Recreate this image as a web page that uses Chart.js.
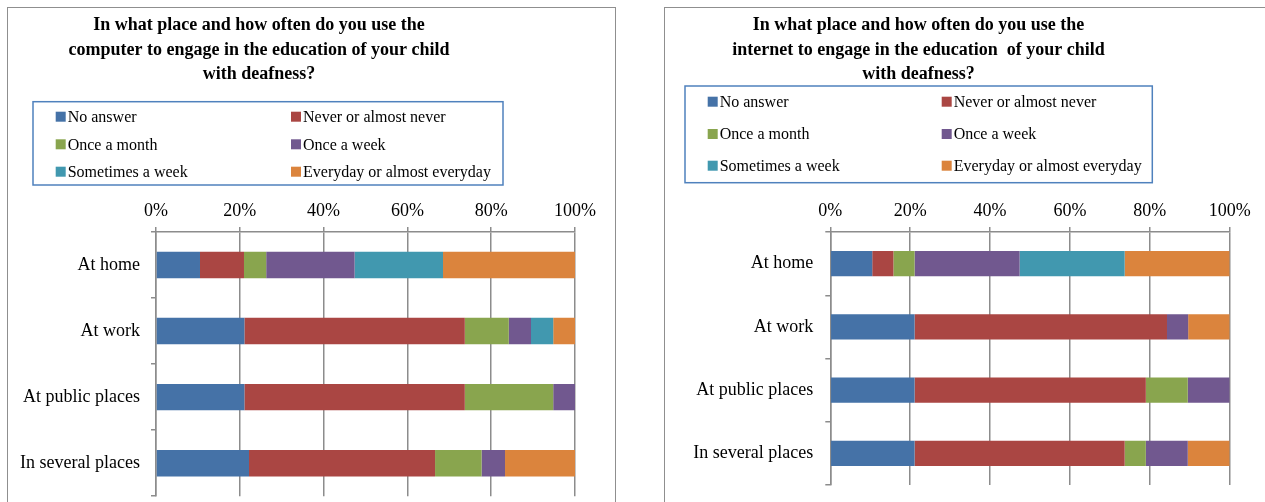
<!DOCTYPE html>
<html>
<head>
<meta charset="utf-8">
<script src="https://cdn.jsdelivr.net/npm/chart.js@4.4.1/dist/chart.umd.min.js"></script>
<style>
  html, body { margin: 0; padding: 0; background: #fff; width: 1265px; height: 502px; overflow: hidden; }
  .panel { position: absolute; top: 7px; height: 520px; border: 1px solid #8f8f8f; box-sizing: border-box; background: #fff; }
  #computerPanel { left: 7px; width: 609px; }
  #internetPanel { left: 664px; width: 620px; }
  .panel canvas { display: block; }
</style>
</head>
<body>
<div class="panel" id="computerPanel"><canvas id="computerChart" width="607" height="510"></canvas></div>
<div class="panel" id="internetPanel"><canvas id="internetChart" width="618" height="510"></canvas></div>
<script>
// Places asked about and the answer options
const places = ['At home', 'At work', 'At public places', 'In several places'];
const frequencies = ['No answer', 'Never or almost never', 'Once a month', 'Once a week', 'Sometimes a week', 'Everyday or almost everyday'];
const percentTicks = [0, 20, 40, 60, 80, 100];

// Computer use (% of respondents per place)
const computerNoAnswer        = [10.5, 21.1, 21.1, 22.2];
const computerNever           = [10.5, 52.6, 52.6, 44.4];
const computerMonthly         = [5.3, 10.5, 21.1, 11.1];
const computerWeekly          = [21.1, 5.3, 5.2, 5.6];
const computerSometimesWeekly = [21.1, 5.3, 0, 0];
const computerDaily           = [31.5, 5.2, 0, 16.7];

// Internet use (% of respondents per place)
const internetNoAnswer        = [10.5, 21.1, 21.1, 21.1];
const internetNever           = [5.3, 63.2, 57.9, 52.6];
const internetMonthly         = [5.3, 0, 10.5, 5.3];
const internetWeekly          = [26.3, 5.3, 10.5, 10.5];
const internetSometimesWeekly = [26.3, 0, 0, 0];
const internetDaily           = [26.3, 10.4, 0, 10.5];

// Series colours
const seriesColors = ['#4572a7', '#aa4643', '#89a54e', '#71588f', '#4198af', '#db843d'];

const serif = "'Liberation Serif', 'Times New Roman', serif";
const gridGray = '#8c8c8c';

// Multi-line bold title drawn at a fixed centre
const panelTitle = {
  id: 'panelTitle',
  afterDraw(chart, args, opts) {
    const ctx = chart.ctx;
    ctx.save();
    ctx.fillStyle = '#000';
    ctx.font = 'bold 18px ' + serif;
    ctx.textAlign = 'center';
    ctx.textBaseline = 'middle';
    opts.lines.forEach((line, i) => ctx.fillText(line, opts.x, opts.y + i * opts.lineHeight));
    ctx.restore();
  }
};

// Two-column boxed legend built from the datasets
const boxedLegend = {
  id: 'boxedLegend',
  afterDraw(chart, args, opts) {
    const ctx = chart.ctx;
    ctx.save();
    ctx.strokeStyle = '#4f81bd';
    ctx.lineWidth = 1.5;
    ctx.strokeRect(opts.box[0], opts.box[1], opts.box[2], opts.box[3]);
    ctx.font = '16px ' + serif;
    ctx.textAlign = 'left';
    ctx.textBaseline = 'middle';
    chart.data.datasets.forEach((ds, i) => {
      const col = i % 2, row = Math.floor(i / 2);
      const mx = opts.markerX[col], y = opts.rowY[row];
      ctx.fillStyle = ds.backgroundColor;
      ctx.fillRect(mx, y - 5, 10, 10);
      ctx.fillStyle = '#000';
      ctx.fillText(ds.label, mx + 12, y + 1);
    });
    ctx.restore();
  }
};

function buildChart(canvasId, series, geom) {
  const datasets = series.map((values, i) => ({
    label: frequencies[i],
    data: values,
    backgroundColor: seriesColors[i],
    borderWidth: 0,
    barPercentage: 0.4,
    categoryPercentage: 1.0
  }));
  return new Chart(document.getElementById(canvasId), {
    type: 'bar',
    data: { labels: places, datasets },
    options: {
      indexAxis: 'y',
      responsive: false,
      animation: false,
      layout: { padding: { left: 0, top: geom.top - 30, right: geom.right, bottom: geom.bottom } },
      plugins: {
        legend: { display: false },
        title: { display: false },
        tooltip: { enabled: false },
        panelTitle: { lines: geom.title, x: geom.titleX, y: 17.5, lineHeight: 24.5 },
        boxedLegend: geom.legend
      },
      scales: {
        x: {
          position: 'top',
          stacked: true,
          min: 0,
          max: 100,
          afterBuildTicks: (scale) => { scale.ticks = percentTicks.map(v => ({ value: v })); },
          afterFit: (scale) => { scale.height = 30; },
          ticks: {
            callback: (v) => v + '%',
            color: '#000',
            font: { family: serif, size: 18 },
            padding: 5,
            maxRotation: 0
          },
          grid: { color: gridGray, lineWidth: 1.5, tickLength: 5, drawTicks: true },
          border: { display: true, color: gridGray, width: 1.5 }
        },
        y: {
          stacked: true,
          afterFit: (scale) => { scale.width = geom.left; },
          ticks: {
            color: '#000',
            font: { family: serif, size: 18 },
            padding: geom.labelPad
          },
          grid: { drawOnChartArea: false, color: gridGray, lineWidth: 1.5, tickLength: 5, offset: true },
          border: { display: true, color: gridGray, width: 1.5 }
        }
      }
    },
    plugins: [panelTitle, boxedLegend]
  });
}

buildChart('computerChart',
  [computerNoAnswer, computerNever, computerMonthly, computerWeekly, computerSometimesWeekly, computerDaily],
  {
    left: 148, right: 40, top: 224, bottom: 21, labelPad: 11,
    titleX: 251,
    title: ['In what place and how often do you use the',
            'computer to engage in the education of your child',
            'with deafness?'],
    legend: { box: [25, 93.7, 470, 83.3], markerX: [47.7, 283], rowY: [108.7, 136.3, 163.7] }
  });

buildChart('internetChart',
  [internetNoAnswer, internetNever, internetMonthly, internetWeekly, internetSometimesWeekly, internetDaily],
  {
    left: 165.3, right: 53.3, top: 224, bottom: 33, labelPad: 12,
    titleX: 253.5,
    title: ['In what place and how often do you use the',
            'internet to engage in the education  of your child',
            'with deafness?'],
    legend: { box: [20, 78, 467.3, 96.7], markerX: [42.7, 276.7], rowY: [93.7, 126, 157.7] }
  });
</script>
</body>
</html>
